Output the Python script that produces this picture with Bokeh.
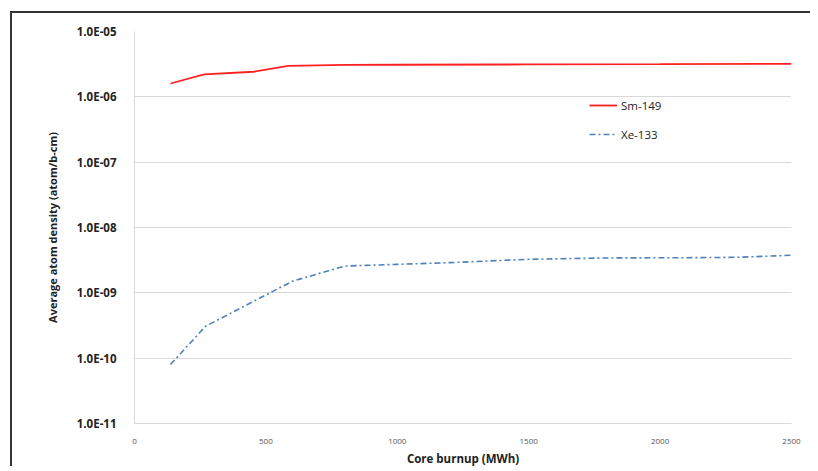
from bokeh.plotting import figure
from bokeh.models import FixedTicker, Legend, LegendItem
from bokeh.embed import file_html
from bokeh.resources import INLINE

# Data
burnup_sm = [137, 265, 453, 585, 800, 1000, 1500, 2000, 2500]
sm149 = [1.6e-6, 2.2e-6, 2.42e-6, 2.98e-6, 3.08e-6, 3.1e-6, 3.13e-6, 3.16e-6, 3.2e-6]

burnup_xe = [137, 270, 450, 600, 800, 1000, 1200, 1500, 1800, 2100, 2300, 2500]
xe133 = [8.0e-11, 3.07e-10, 7.3e-10, 1.5e-9, 2.57e-9, 2.73e-9, 2.9e-9, 3.26e-9, 3.42e-9, 3.45e-9, 3.5e-9, 3.76e-9]

y_ticks = [1e-11, 1e-10, 1e-9, 1e-8, 1e-7, 1e-6, 1e-5]
y_tick_labels = ["1.0E-11", "1.0E-10", "1.0E-09", "1.0E-08", "1.0E-07", "1.0E-06", "1.0E-05"]
x_ticks = [0, 500, 1000, 1500, 2000, 2500]

FONT = "Open Sans"

p = figure(width=800, height=455, y_axis_type="log",
           x_range=(0, 2500), y_range=(1e-11, 1e-5),
           output_backend="svg", toolbar_location=None,
           min_border_left=122, min_border_right=21,
           min_border_top=18, min_border_bottom=45)
p.styles = {"border-top": "2px solid #333", "border-left": "2px solid #333",
            "margin-left": "10px", "margin-top": "11px"}

p.outline_line_color = None
p.background_fill_color = "white"
p.border_fill_color = "white"

p.xgrid.grid_line_color = None
p.ygrid.grid_line_color = "#d9d9d9"
p.ygrid.grid_line_width = 1

p.yaxis.ticker = FixedTicker(ticks=y_ticks)
p.yaxis.major_label_overrides = {t: l for t, l in zip(y_ticks, y_tick_labels)}
p.yaxis.minor_tick_line_color = None
p.yaxis.major_tick_line_color = None
p.yaxis.axis_line_color = "#d9d9d9"
p.yaxis.major_label_text_font = FONT
p.yaxis.major_label_text_font_style = "bold"
p.yaxis.major_label_text_font_size = "11.5px"
p.yaxis.major_label_text_color = "#222222"
p.yaxis.major_label_standoff = 12
p.yaxis.axis_label = "Average atom density (atom/b-cm)"
p.yaxis.axis_label_text_font = FONT
p.yaxis.axis_label_text_font_style = "bold"
p.yaxis.axis_label_text_font_size = "11px"
p.yaxis.axis_label_text_color = "#222222"
p.yaxis.axis_label_standoff = 14

p.xaxis.ticker = FixedTicker(ticks=x_ticks)
p.xaxis.minor_tick_line_color = None
p.xaxis.major_tick_line_color = None
p.xaxis.axis_line_color = "#d9d9d9"
p.xaxis.major_label_text_font = FONT
p.xaxis.major_label_text_font_size = "8px"
p.xaxis.major_label_text_color = "#555555"
p.xaxis.major_label_standoff = 9
p.xaxis.axis_label = "Core burnup (MWh)"
p.xaxis.axis_label_text_font = FONT
p.xaxis.axis_label_text_font_style = "bold"
p.xaxis.axis_label_text_font_size = "11.5px"
p.xaxis.axis_label_text_color = "#222222"
p.xaxis.axis_label_standoff = 4

r_sm = p.line(burnup_sm, sm149, line_color="#ff2020", line_width=1.8)
r_xe = p.line(burnup_xe, xe133, line_color="#4f81bd", line_width=1.6,
              line_dash="6 3 2 3")

legend = Legend(items=[LegendItem(label="Sm-149", renderers=[r_sm]),
                       LegendItem(label="Xe-133", renderers=[r_xe])],
                location=(455, 279), border_line_color=None,
                background_fill_alpha=0, spacing=9,
                glyph_width=28, label_standoff=4,
                label_text_font=FONT, label_text_font_size="11.5px",
                label_text_color="#222222")
p.add_layout(legend)

open("out.html", "w").write(file_html(p, INLINE))
